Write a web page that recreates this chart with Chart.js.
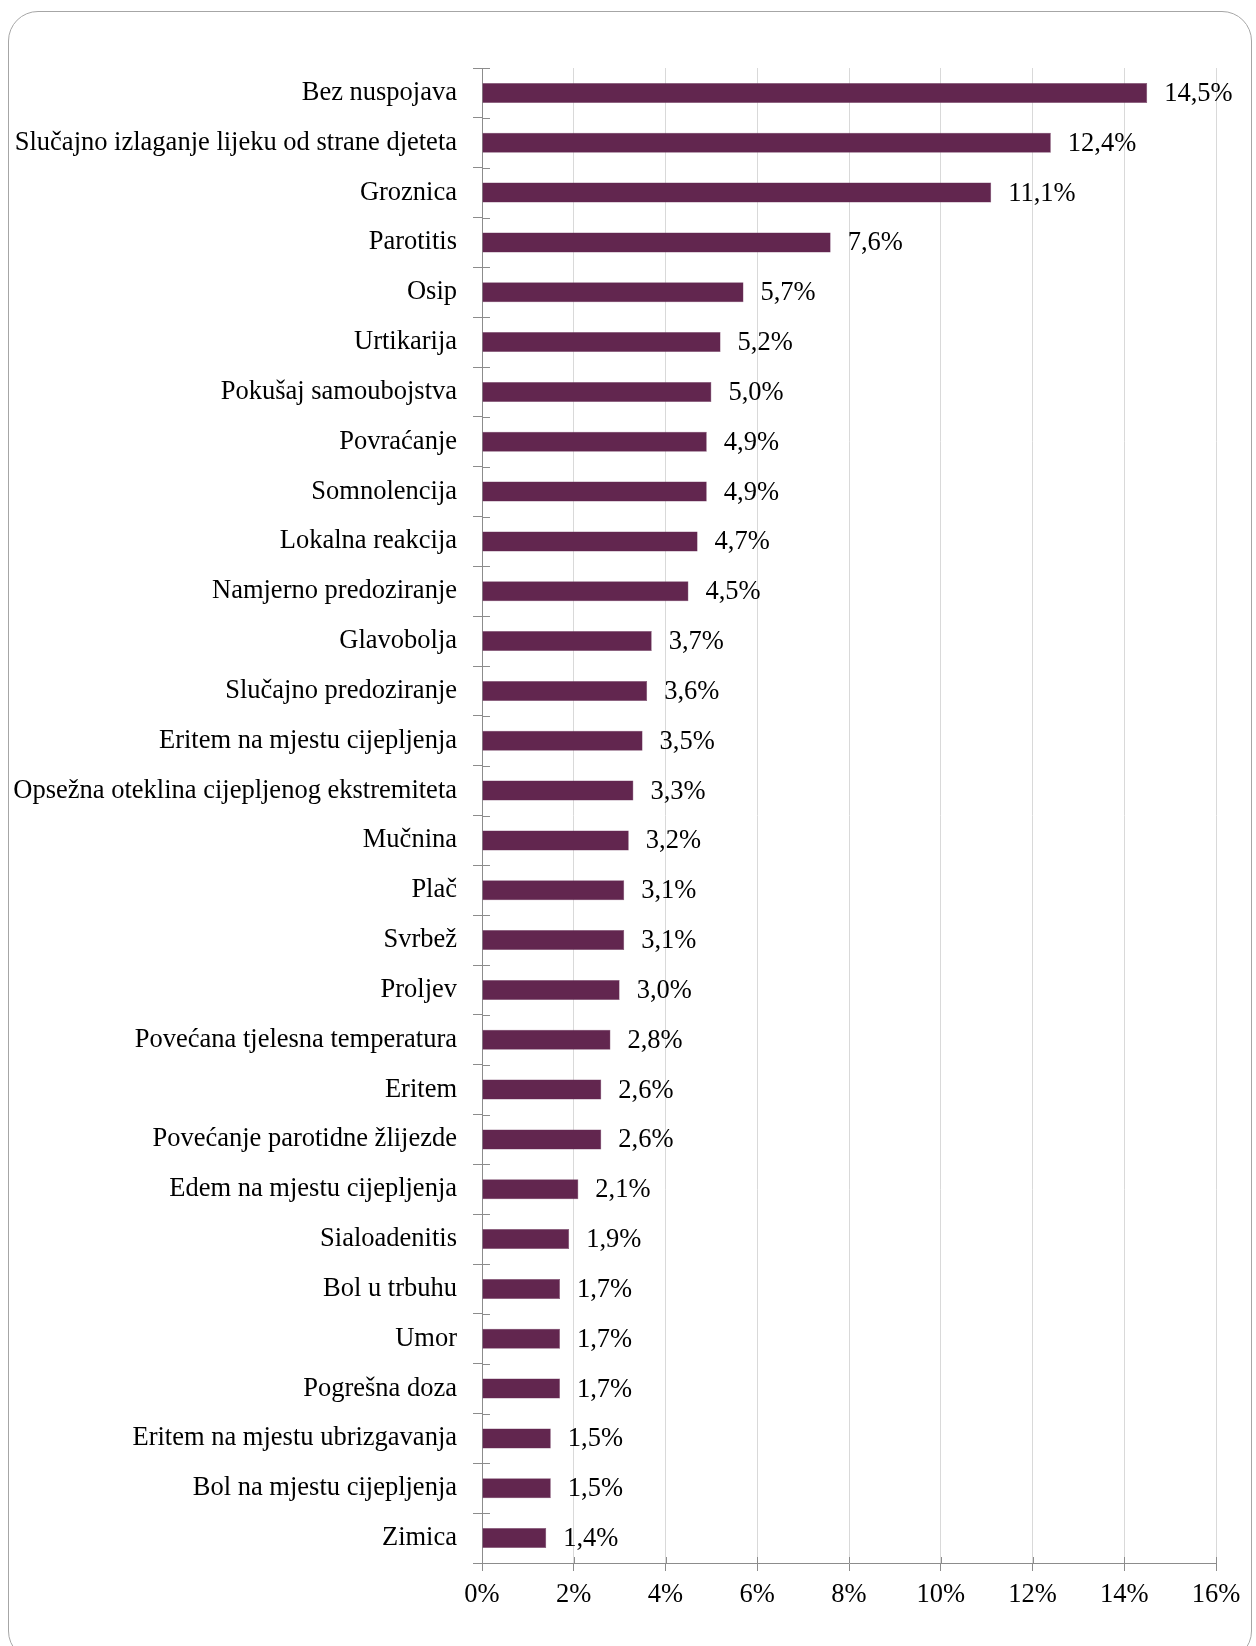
<!DOCTYPE html>
<html>
<head>
<meta charset="utf-8">
<script src="https://cdn.jsdelivr.net/npm/chart.js@4/dist/chart.umd.min.js"></script>
<style>
  html, body { margin: 0; padding: 0; background: #fff; }
  #wrap { position: relative; width: 1256px; height: 1646px; overflow: hidden; }
  #frame {
    position: absolute; left: 8px; top: 11px; width: 1244px; height: 1650px;
    border: 1.5px solid #a6a6a6; border-radius: 30px; box-sizing: border-box;
    pointer-events: none;
  }
</style>
</head>
<body>
<div id="wrap">
  <canvas id="chart" width="1256" height="1646"></canvas>
  <div id="frame"></div>
</div>
<script>
// categories, top to bottom
const labels = [
  'Bez nuspojava',
  'Slučajno izlaganje lijeku od strane djeteta',
  'Groznica',
  'Parotitis',
  'Osip',
  'Urtikarija',
  'Pokušaj samoubojstva',
  'Povraćanje',
  'Somnolencija',
  'Lokalna reakcija',
  'Namjerno predoziranje',
  'Glavobolja',
  'Slučajno predoziranje',
  'Eritem na mjestu cijepljenja',
  'Opsežna oteklina cijepljenog ekstremiteta',
  'Mučnina',
  'Plač',
  'Svrbež',
  'Proljev',
  'Povećana tjelesna temperatura',
  'Eritem',
  'Povećanje parotidne žlijezde',
  'Edem na mjestu cijepljenja',
  'Sialoadenitis',
  'Bol u trbuhu',
  'Umor',
  'Pogrešna doza',
  'Eritem na mjestu ubrizgavanja',
  'Bol na mjestu cijepljenja',
  'Zimica'
];

// percent
const values = [
  14.5, 12.4, 11.1, 7.6, 5.7, 5.2, 5.0, 4.9, 4.9, 4.7,
  4.5, 3.7, 3.6, 3.5, 3.3, 3.2, 3.1, 3.1, 3.0, 2.8,
  2.6, 2.6, 2.1, 1.9, 1.7, 1.7, 1.7, 1.5, 1.5, 1.4
];

const xMax = 16;
const xStep = 2;

const FONT = '"Liberation Serif", "Times New Roman", serif';
const FSIZE = 26.5;
const axisColor = '#8c8c8c';

// value labels right of each bar, "14,5%" style
const valueLabels = {
  id: 'valueLabels',
  afterDatasetsDraw(chart) {
    const ctx = chart.ctx;
    const meta = chart.getDatasetMeta(0);
    ctx.save();
    ctx.font = FSIZE + 'px ' + FONT;
    ctx.fillStyle = '#000';
    ctx.textAlign = 'left';
    ctx.textBaseline = 'middle';
    meta.data.forEach((bar, i) => {
      const txt = values[i].toFixed(1).replace('.', ',') + '%';
      ctx.fillText(txt, bar.x + 17, bar.y + 1);
    });
    ctx.restore();
  }
};

// the inner half of the tick marks (ticks cross the axis lines)
const innerTicks = {
  id: 'innerTicks',
  afterDraw(chart) {
    const ctx = chart.ctx;
    const xs = chart.scales.x, ys = chart.scales.y;
    ctx.save();
    ctx.strokeStyle = axisColor;
    ctx.lineWidth = 1;
    ctx.beginPath();
    const n = labels.length;
    for (let i = 0; i <= n; i++) {
      let y;
      if (i === 0) y = ys.top;
      else if (i === n) y = ys.bottom;
      else y = (ys.getPixelForValue(i - 1) + ys.getPixelForValue(i)) / 2;
      y = Math.round(y) + 0.5;
      ctx.moveTo(xs.left, y);
      ctx.lineTo(xs.left + 8, y);
    }
    xs.ticks.forEach(t => {
      const x = Math.round(xs.getPixelForValue(t.value)) + 0.5;
      ctx.moveTo(x, xs.top);
      ctx.lineTo(x, xs.top - 6);
    });
    ctx.stroke();
    ctx.restore();
  }
};

new Chart(document.getElementById('chart'), {
  type: 'bar',
  data: {
    labels,
    datasets: [{
      data: values,
      backgroundColor: '#62264f',
      borderColor: '#7a4a6c',
      borderWidth: 0.5,
      barPercentage: 0.4,
      categoryPercentage: 1
    }]
  },
  options: {
    indexAxis: 'y',
    responsive: false,
    animation: false,
    devicePixelRatio: 1,
    layout: { padding: { top: 68, right: 40, left: 0, bottom: 0 } },
    plugins: {
      legend: { display: false },
      tooltip: { enabled: false }
    },
    scales: {
      x: {
        min: 0,
        max: xMax,
        ticks: {
          stepSize: xStep,
          padding: 8,
          color: '#000',
          font: { family: FONT, size: FSIZE },
          callback: v => v + '%'
        },
        grid: {
          color: '#d9d9d9',
          tickColor: axisColor,
          tickLength: 8,
          lineWidth: 1
        },
        border: { color: axisColor, width: 1 },
        afterFit: s => { s.height = 83; }
      },
      y: {
        ticks: {
          padding: 16,
          color: '#000',
          font: { family: FONT, size: FSIZE },
          autoSkip: false
        },
        grid: {
          drawOnChartArea: false,
          tickColor: axisColor,
          tickLength: 9,
          offset: true
        },
        border: { color: axisColor, width: 1 },
        afterFit: s => { s.width = 482; }
      }
    }
  },
  plugins: [valueLabels, innerTicks]
});
</script>
</body>
</html>
